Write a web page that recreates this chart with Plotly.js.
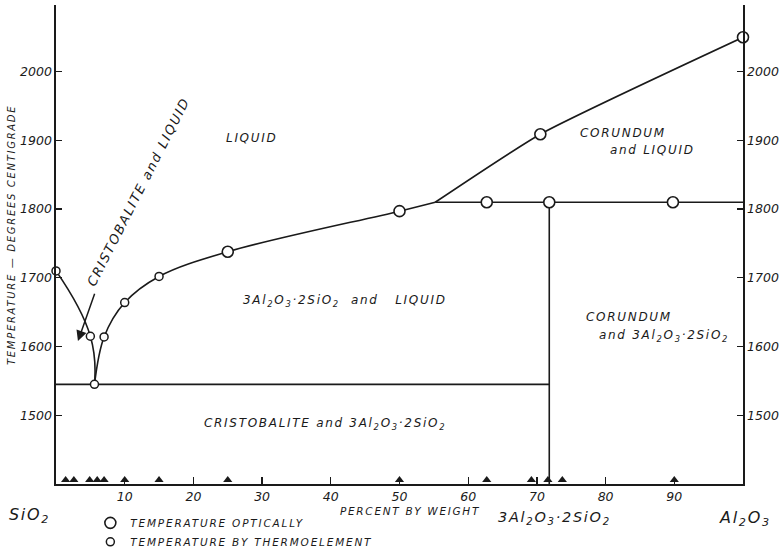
<!DOCTYPE html>
<html>
<head>
<meta charset="utf-8">
<script src="https://cdn.plot.ly/plotly-3.0.1.min.js"></script>
<style>
html,body{margin:0;padding:0;background:#fff;}
#chart{width:784px;height:549px;}
.annotation-text{letter-spacing:1.7px;}
.legendtext{letter-spacing:1.8px;}
</style>
</head>
<body>
<div id="chart"></div>
<script>
// ---- data (percent Al2O3 by weight, temperature in °C) ----
const cristobaliteLiquidusX = [0, 5.0, 5.6];
const cristobaliteLiquidusT = [1710, 1615, 1545];
const mulliteLiquidusX = [5.6, 7.0, 10, 15, 25, 50, 55.2];
const mulliteLiquidusT = [1545, 1614, 1664, 1702, 1738, 1797, 1810];
const corundumLiquidusX = [55.2, 70.5, 100];
const corundumLiquidusT = [1810, 1909, 2050];
const peritecticX = [55.2, 100];
const peritecticT = [1810, 1810];
const eutecticX = [0, 71.8];
const eutecticT = [1545, 1545];
const mulliteX = [71.8, 71.8];
const mulliteT = [1810, 1400];
const opticalX = [25, 50, 62.7, 71.8, 89.8, 70.5, 100];
const opticalT = [1738, 1797, 1810, 1810, 1810, 1909, 2050];
const thermoX = [0, 5.0, 5.6, 7.0, 10, 15];
const thermoT = [1710, 1615, 1545, 1614, 1664, 1702];
const studiedX = [1.4, 2.6, 4.9, 6.0, 7.0, 10, 15, 25, 50, 62.7, 69.2, 71.6, 73.7, 90];
const xTicks = [10, 20, 30, 40, 50, 60, 70, 80, 90];
const yTicks = [1500, 1600, 1700, 1800, 1900, 2000];

const INK = '#1a1a1a';
const FONT = 'DejaVu Sans';
const lineStyle = {color: INK, width: 1.6};

function curve(x, y, smoothing) {
  return {x: x, y: y, type: 'scatter', mode: 'lines', showlegend: false, hoverinfo: 'skip',
          line: Object.assign({}, lineStyle, smoothing ? {shape: 'spline', smoothing: smoothing} : {})};
}

const traces = [
  curve(cristobaliteLiquidusX, cristobaliteLiquidusT, 1.3),
  curve(mulliteLiquidusX, mulliteLiquidusT, 1),
  curve(corundumLiquidusX, corundumLiquidusT, 0.5),
  curve(peritecticX, peritecticT, 0),
  curve(eutecticX, eutecticT, 0),
  curve(mulliteX, mulliteT, 0),
  {x: opticalX, y: opticalT, type: 'scatter', mode: 'markers', name: 'TEMPERATURE OPTICALLY',
   marker: {symbol: 'circle', size: 11, color: '#fff', line: {color: INK, width: 1.6}}, cliponaxis: false},
  {x: thermoX, y: thermoT, type: 'scatter', mode: 'markers', name: 'TEMPERATURE BY THERMOELEMENT',
   marker: {symbol: 'circle', size: 8, color: '#fff', line: {color: INK, width: 1.5}}, cliponaxis: false},
  {x: studiedX, y: studiedX.map(() => 0), type: 'scatter', mode: 'markers', yaxis: 'y3', showlegend: false,
   marker: {symbol: 'triangle-up', size: 8, color: INK}, cliponaxis: false, hoverinfo: 'skip'},
  {x: [], y: [], yaxis: 'y2', showlegend: false, type: 'scatter'}
];

const tickFont = {family: FONT, size: 12.5, color: INK, style: 'italic'};
const lblFont = {family: FONT, size: 12, color: INK, style: 'italic'};
const bigFont = {family: FONT, size: 14.5, color: INK, style: 'italic'};
const endFont = {family: FONT, size: 16, color: INK, style: 'italic'};

function lbl(x, y, text, extra) {
  return Object.assign({x: x, y: y, xref: 'x', yref: 'y', text: text, showarrow: false, font: lblFont,
                        xanchor: 'center', yanchor: 'middle'}, extra || {});
}
function plbl(x, y, text, font, extra) {
  return Object.assign({x: x, y: y, xref: 'paper', yref: 'paper', text: text, showarrow: false, font: font,
                        xanchor: 'center', yanchor: 'middle'}, extra || {});
}
const sub = s => '<sub>' + s + '</sub>';
const mullite = '3Al' + sub('2') + 'O' + sub('3') + '·2SiO' + sub('2');

const annotations = [
  lbl(28.5, 1904, 'LIQUID'),
  lbl(82.5, 1911, 'CORUNDUM'),
  lbl(86.8, 1886, 'and LIQUID'),
  lbl(42.0, 1666, mullite + '  and   LIQUID'),
  lbl(83.4, 1643, 'CORUNDUM'),
  lbl(88.5, 1615, 'and ' + mullite),
  lbl(39.2, 1487, 'CRISTOBALITE and ' + mullite),
  lbl(12.0, 1826, 'CRISTOBALITE and LIQUID', {textangle: -63, font: Object.assign({}, lblFont, {size: 13})}),
  {x: 3.2, y: 1608, ax: 5.7, ay: 1679, xref: 'x', yref: 'y', axref: 'x', ayref: 'y', text: '',
   showarrow: true, arrowhead: 2, arrowsize: 1.4, arrowwidth: 1.5, arrowcolor: INK},
  plbl(-0.038, -0.066, 'SiO' + sub('2'), endFont),
  plbl(0.515, -0.057, 'PERCENT BY WEIGHT', {family: FONT, size: 10.5, color: INK, style: 'italic'}),
  plbl(0.726, -0.071, mullite, bigFont),
  plbl(1.003, -0.071, 'Al' + sub('2') + 'O' + sub('3'), endFont),
  plbl(-0.064, 0.52, 'TEMPERATURE — DEGREES CENTIGRADE', {family: FONT, size: 10, color: INK, style: 'italic'},
       {textangle: -90})
];

const yRange = [1400, 2097];
const yCommon = {range: yRange, tickvals: yTicks, ticks: 'inside', ticklen: 6, tickcolor: INK, tickwidth: 1.3,
  showline: true, linecolor: INK, linewidth: 1.6, showgrid: false, zeroline: false, tickfont: tickFont, fixedrange: true};

const layout = {
  width: 784, height: 549,
  margin: {l: 56, r: 41, t: 5, b: 65},
  paper_bgcolor: '#fff', plot_bgcolor: '#fff',
  showlegend: true,
  legend: {x: 0.05, xref: 'paper', y: 0.074, yref: 'container', xanchor: 'left', yanchor: 'top',
           bgcolor: 'rgba(0,0,0,0)', font: {family: FONT, size: 10.5, color: INK, style: 'italic'},
           tracegroupgap: 0, itemwidth: 30},
  xaxis: {range: [0, 100], tickvals: xTicks, ticks: 'inside', ticklen: 7, tickcolor: INK, tickwidth: 1.3,
          showline: true, linecolor: INK, linewidth: 1.6, showgrid: false, zeroline: false, tickfont: tickFont, fixedrange: true},
  yaxis: Object.assign({side: 'left'}, yCommon),
  yaxis2: Object.assign({side: 'right', overlaying: 'y', anchor: 'x'}, yCommon),
  yaxis3: {range: [-1, 118.75], overlaying: 'y', visible: false, fixedrange: true},
  annotations: annotations
};

Plotly.newPlot('chart', traces, layout, {displayModeBar: false, staticPlot: true});
</script>
</body>
</html>
